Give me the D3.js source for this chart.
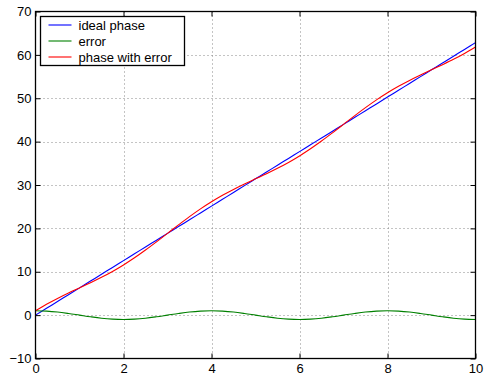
<!DOCTYPE html>
<html lang="en">
<head>
<meta charset="utf-8" />
<title>Phase with error</title>
<script src="https://cdn.jsdelivr.net/npm/d3@7"></script>
<style>
  body { margin: 0; background: #fff; }
  text { font-family: "Liberation Sans", Arial, sans-serif; }
</style>
</head>
<body>
<script>
// sample times (step 0.25)
var t = [0, 0.25, 0.5, 0.75, 1, 1.25, 1.5, 1.75, 2, 2.25, 2.5, 2.75, 3, 3.25, 3.5, 3.75,
  4, 4.25, 4.5, 4.75, 5, 5.25, 5.5, 5.75, 6, 6.25, 6.5, 6.75, 7, 7.25, 7.5, 7.75,
  8, 8.25, 8.5, 8.75, 9, 9.25, 9.5, 9.75, 10];

var idealPhase = [0, 1.57, 3.14, 4.71, 6.28, 7.85, 9.42, 11.00, 12.57, 14.14, 15.71, 17.28,
  18.85, 20.42, 21.99, 23.56, 25.13, 26.70, 28.27, 29.85, 31.42, 32.99, 34.56, 36.13,
  37.70, 39.27, 40.84, 42.41, 43.98, 45.55, 47.12, 48.69, 50.27, 51.84, 53.41, 54.98,
  56.55, 58.12, 59.69, 61.26, 62.83];

var phaseError = [1, 0.92, 0.71, 0.38, 0, -0.38, -0.71, -0.92, -1, -0.92, -0.71, -0.38,
  0, 0.38, 0.71, 0.92, 1, 0.92, 0.71, 0.38, 0, -0.38, -0.71, -0.92,
  -1, -0.92, -0.71, -0.38, 0, 0.38, 0.71, 0.92, 1, 0.92, 0.71, 0.38,
  0, -0.38, -0.71, -0.92, -1];

var phaseWithError = [1.00, 2.49, 3.85, 5.10, 6.28, 7.47, 8.72, 10.07, 11.57, 13.21, 15.00,
  16.90, 18.85, 20.80, 22.70, 24.49, 26.13, 27.63, 28.98, 30.23, 31.42, 32.60, 33.85,
  35.20, 36.70, 38.35, 40.13, 42.03, 43.98, 45.94, 47.83, 49.62, 51.27, 52.76, 54.11,
  55.36, 56.55, 57.74, 58.98, 60.34, 61.83];

var xTicks = [0, 2, 4, 6, 8, 10];
var yTicks = [-10, 0, 10, 20, 30, 40, 50, 60, 70];

var seriesNames = ['ideal phase', 'error', 'phase with error'];
var seriesColors = ['#0000ff', '#008000', '#ff0000'];
var seriesData = [idealPhase, phaseError, phaseWithError];

var W = 485, H = 376;
var pLeft = 35.5, pRight = 475.5, pTop = 11.5, pBottom = 358.5;
var fontSize = 13;

var svg = d3.select('body').append('svg')
  .attr('width', W)
  .attr('height', H);

var x = d3.scaleLinear().domain([0, 10]).range([pLeft, pRight]);
var y = d3.scaleLinear().domain([-10, 70]).range([pBottom, pTop]);

// grid
var grid = svg.append('g')
  .attr('stroke', '#888')
  .attr('stroke-width', 1)
  .attr('stroke-dasharray', '1,3');
xTicks.slice(1, -1).forEach(function(d) {
  grid.append('line')
    .attr('x1', Math.round(x(d)) + 0.5).attr('x2', Math.round(x(d)) + 0.5)
    .attr('y1', pTop).attr('y2', pBottom);
});
yTicks.slice(1, -1).forEach(function(d) {
  grid.append('line')
    .attr('x1', pLeft).attr('x2', pRight)
    .attr('y1', Math.round(y(d)) + 0.5).attr('y2', Math.round(y(d)) + 0.5);
});

// series
var line = d3.line()
  .x(function(d, i) { return x(t[i]); })
  .y(function(d) { return y(d); })
  .curve(d3.curveMonotoneX);

seriesData.forEach(function(s, k) {
  svg.append('path')
    .datum(s)
    .attr('fill', 'none')
    .attr('stroke', seriesColors[k])
    .attr('stroke-width', 1.1)
    .attr('d', line);
});

// axes: inward ticks on all four sides
var xAxisB = d3.axisBottom(x).tickValues(xTicks).tickSizeInner(-5).tickSizeOuter(0).tickPadding(7);
var xAxisT = d3.axisTop(x).tickValues(xTicks).tickSizeInner(-5).tickSizeOuter(0).tickFormat('');
var yAxisL = d3.axisLeft(y).tickValues(yTicks).tickSizeInner(-5).tickSizeOuter(0).tickPadding(4);
var yAxisR = d3.axisRight(y).tickValues(yTicks).tickSizeInner(-5).tickSizeOuter(0).tickFormat('');

function styleAxis(g) {
  g.select('.domain').remove();
  g.selectAll('line').attr('stroke', '#000');
  g.selectAll('text').attr('font-size', fontSize).attr('fill', '#000')
    .attr('font-family', '"Liberation Sans", Arial, sans-serif');
}

svg.append('g').attr('transform', 'translate(0,' + pBottom + ')').call(xAxisB).call(styleAxis)
  .selectAll('text').attr('dy', '0.6em');
svg.append('g').attr('transform', 'translate(0,' + pTop + ')').call(xAxisT).call(styleAxis);
svg.append('g').attr('transform', 'translate(' + pLeft + ',0)').call(yAxisL).call(styleAxis);
svg.append('g').attr('transform', 'translate(' + pRight + ',0)').call(yAxisR).call(styleAxis);

// frame
svg.append('rect')
  .attr('x', pLeft).attr('y', pTop)
  .attr('width', pRight - pLeft).attr('height', pBottom - pTop)
  .attr('fill', 'none')
  .attr('stroke', '#000')
  .attr('stroke-width', 1.3);

// legend
var lg = svg.append('g').attr('transform', 'translate(40.5,16.5)');
lg.append('rect')
  .attr('width', 144).attr('height', 49)
  .attr('fill', '#fff')
  .attr('stroke', '#000')
  .attr('stroke-width', 1.3);
seriesNames.forEach(function(name, k) {
  var yy = 8.5 + k * 16;
  lg.append('line')
    .attr('x1', 8).attr('x2', 31)
    .attr('y1', yy).attr('y2', yy)
    .attr('stroke', seriesColors[k])
    .attr('stroke-width', 1.1);
  lg.append('text')
    .attr('x', 38).attr('y', yy + 4.5)
    .attr('font-size', fontSize)
    .text(name);
});
</script>
</body>
</html>
